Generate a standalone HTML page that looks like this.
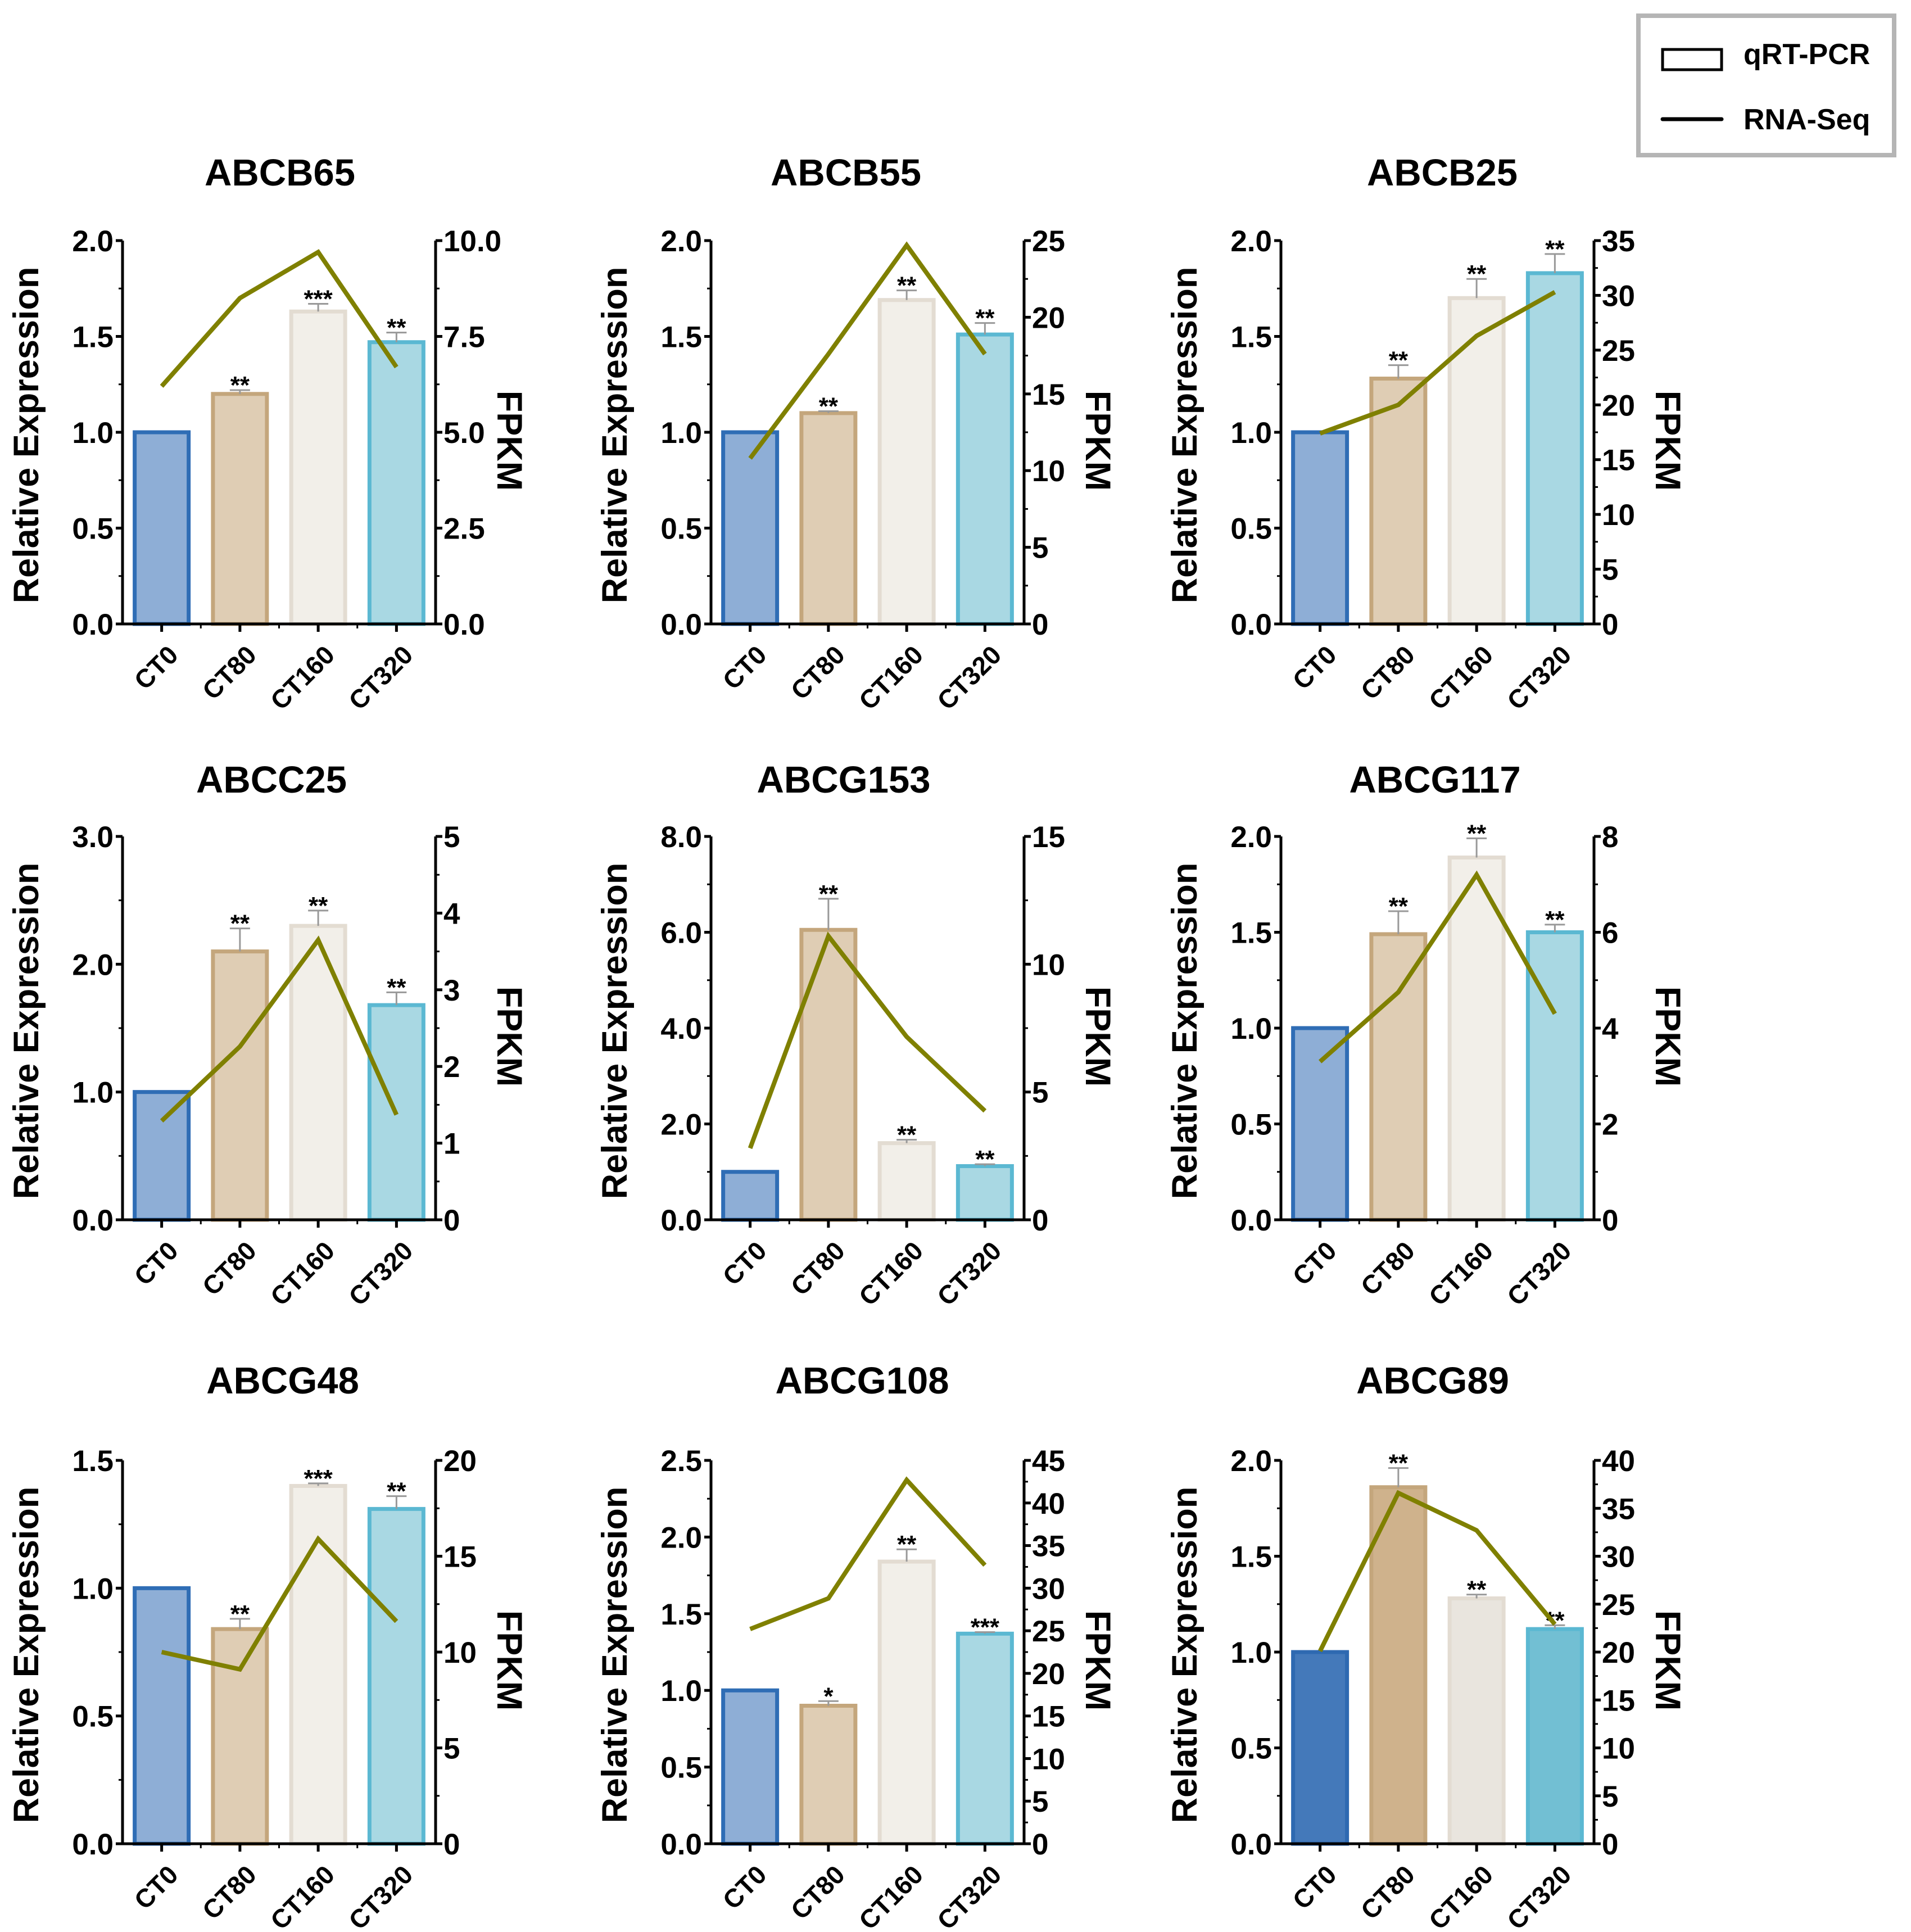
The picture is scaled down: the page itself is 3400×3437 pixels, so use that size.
<!DOCTYPE html>
<html><head><meta charset="utf-8"><style>
html,body{margin:0;padding:0;background:#fff;}
svg{display:block;font-family:"Liberation Sans",Arial,sans-serif;font-weight:bold;}
</style></head><body>
<svg id="chart" width="3400" height="3437" viewBox="0 0 3400 3437" xmlns="http://www.w3.org/2000/svg">
<g>
<rect x="2915" y="28" width="455" height="248" fill="#fff" stroke="#b5b5b5" stroke-width="8"/>
<rect x="2958" y="88" width="105" height="36" fill="#fff" stroke="#000" stroke-width="5"/>
<text x="3102" y="114" font-size="52">qRT-PCR</text>
<line x1="2958" y1="212" x2="3063" y2="212" stroke="#000" stroke-width="7" stroke-linecap="round"/>
<text x="3102" y="230" font-size="52">RNA-Seq</text>
</g>
</svg>
<script>
const categories = ["CT0","CT80","CT160","CT320"];
const geneNames = ["ABCB65","ABCB55","ABCB25","ABCC25","ABCG153","ABCG117","ABCG48","ABCG108","ABCG89"];
const relExpr = [
 [1.0,1.2,1.63,1.47],
 [1.0,1.1,1.69,1.51],
 [1.0,1.28,1.7,1.83],
 [1.0,2.1,2.3,1.68],
 [1.0,6.05,1.6,1.12],
 [1.0,1.49,1.89,1.5],
 [1.0,0.84,1.4,1.31],
 [1.0,0.9,1.84,1.37],
 [1.0,1.86,1.28,1.12]
];
const relErr = [
 [0,0.02,0.04,0.05],
 [0,0.01,0.05,0.06],
 [0,0.07,0.1,0.1],
 [0,0.18,0.12,0.1],
 [0,0.65,0.07,0.04],
 [0,0.12,0.1,0.04],
 [0,0.04,0.01,0.05],
 [0,0.03,0.08,0.01],
 [0,0.1,0.02,0.02]
];
const stars = [
 ["","**","***","**"],["","**","**","**"],["","**","**","**"],
 ["","**","**","**"],["","**","**","**"],["","**","**","**"],
 ["","**","***","**"],["","*","**","***"],["","**","**","**"]
];
const fpkm = [
 [6.2,8.5,9.7,6.7],
 [10.8,17.6,24.7,17.6],
 [17.4,20.0,26.3,30.3],
 [1.29,2.26,3.65,1.37],
 [2.8,11.1,7.16,4.26],
 [3.3,4.75,7.2,4.3],
 [10.0,9.1,15.9,11.6],
 [25.2,28.8,42.7,32.7],
 [20.1,36.6,32.7,22.9]
];
const leftMax = [2,2,2,3,8,2,1.5,2.5,2];
const leftStep = [0.5,0.5,0.5,1,2,0.5,0.5,0.5,0.5];
const rightMax = [10,25,35,5,15,8,20,45,40];
const rightStep = [2.5,5,5,1,5,2,5,5,5];
const rightDecimals = [1,0,0,0,0,0,0,0,0];
const titleX = [498,1505,2566,483,1501,2553,503,1534,2549];

const colLeft = [218,1265,2279];
const rowBottom = [1110,2170,3280];
const titleOffset = [-98,-78,-119];
const axW = 557, axH = 682;
const fills = ["#8eaed6","#dfcdb4","#f2efe9","#a9d8e3"];
const strokes = ["#2f6db5","#c4a67c","#e3dcd2","#5bb8d2"];
const fillsDark = ["#4479ba","#cfb28c","#e9e5de","#72bfd3"];
const strokesDark = ["#2e69b1","#c4a67c","#e3dcd2","#5bb8d2"];

const NS="http://www.w3.org/2000/svg";
const svg=document.getElementById('chart');
function mk(tag,attrs,parent){const e=document.createElementNS(NS,tag);for(const k in attrs)e.setAttribute(k,attrs[k]);parent.appendChild(e);return e;}

geneNames.forEach((gene,p)=>{
 const row=Math.floor(p/3);
 const x0=colLeft[p%3], yb=rowBottom[row], yt=yb-axH, x1=x0+axW;
 const g=mk('g',{},svg);
 
 
 const yL=v=>yb-v/leftMax[p]*axH;
 const yR=v=>yb-v/rightMax[p]*axH;
 const bw=axW/4;
 const xC=i=>x0+bw*(i+0.5);
 const t=mk('text',{x:titleX[p],y:yt+titleOffset[row],'font-size':67,'text-anchor':'middle'},g);
 t.textContent=gene;
 
 
 const dark=(p===8);
 categories.forEach((c,i)=>{
  const v=relExpr[p][i];
  const r=mk('rect',{x:xC(i)-48,y:yL(v),width:96,height:yb-yL(v),fill:(dark?fillsDark:fills)[i],stroke:(dark?strokesDark:strokes)[i],'stroke-width':7},g);
  
  
  const e=relErr[p][i];
  if(e>0){
   const eg=mk('g',{stroke:'#999','stroke-width':3},g);
   
   
   mk('line',{x1:xC(i),y1:yL(v),x2:xC(i),y2:yL(v+e)},eg);
   mk('line',{x1:xC(i)-18,y1:yL(v+e),x2:xC(i)+18,y2:yL(v+e)},eg);
  }
  if(stars[p][i]){
   const s=mk('text',{x:xC(i),y:yL(v+e)+6,'font-size':44,'text-anchor':'middle'},g);
   s.textContent=stars[p][i];
   
   
  }
 });
 const pts=fpkm[p].map((v,i)=>xC(i)+','+yR(v)).join(' ');
 const pl=mk('polyline',{points:pts,fill:'none',stroke:'#7f8000','stroke-width':8,'stroke-linejoin':'miter'},g);
 
 
 const ax=mk('g',{stroke:'#000','stroke-width':5},g);
 
 
 mk('line',{x1:x0,y1:yt,x2:x0,y2:yb+2},ax);
 mk('line',{x1:x1,y1:yt,x2:x1,y2:yb+2},ax);
 mk('line',{x1:x0-8,y1:yb,x2:x1+3,y2:yb},ax);
 for(let i=0;i<4;i++){mk('line',{x1:xC(i),y1:yb,x2:xC(i),y2:yb+14},ax);}
 for(let i=1;i<4;i++){mk('line',{x1:x0+bw*i,y1:yb,x2:x0+bw*i,y2:yb+8,'stroke-width':3},ax);}
 const nL=Math.round(leftMax[p]/leftStep[p]);
 for(let k=0;k<=nL;k++){
  const v=k*leftStep[p], y=yL(v);
  mk('line',{x1:x0-12,y1:y,x2:x0,y2:y},ax);
  if(k<nL) mk('line',{x1:x0-7,y1:yL(v+leftStep[p]/2),x2:x0,y2:yL(v+leftStep[p]/2),'stroke-width':3},ax);
  const tl=mk('text',{x:x0-16,y:y+19,'font-size':53,'text-anchor':'end'},g);
  tl.textContent=v.toFixed(1);
  
  
 }
 const nR=Math.round(rightMax[p]/rightStep[p]);
 for(let k=0;k<=nR;k++){
  const v=k*rightStep[p], y=yR(v);
  mk('line',{x1:x1,y1:y,x2:x1+12,y2:y},ax);
  if(k<nR) mk('line',{x1:x1,y1:yR(v+rightStep[p]/2),x2:x1+7,y2:yR(v+rightStep[p]/2),'stroke-width':3},ax);
  const tl=mk('text',{x:x1+14,y:y+19,'font-size':53,'text-anchor':'start'},g);
  tl.textContent=v.toFixed(rightDecimals[p]);
  
  
 }
 categories.forEach((c,i)=>{
  const tx=xC(i)+32, ty=yb+58;
  const xl=mk('text',{x:tx,y:ty,'font-size':46,'text-anchor':'end',transform:`rotate(-45 ${tx} ${ty})`},g);
  xl.textContent=c;
  
  
 });
 const lx=x0-150, ly=yb-axH/2+5;
 const lt=mk('text',{x:lx,y:ly,'font-size':63,'text-anchor':'middle',transform:`rotate(-90 ${lx} ${ly})`},g);
 lt.textContent='Relative Expression';
 
 
 const rx=x1+110, ry=yb-axH/2+15;
 const rt=mk('text',{x:rx,y:ry,'font-size':63,'text-anchor':'middle',transform:`rotate(90 ${rx} ${ry})`},g);
 rt.textContent='FPKM';
 
 
});
</script>
</body></html>
